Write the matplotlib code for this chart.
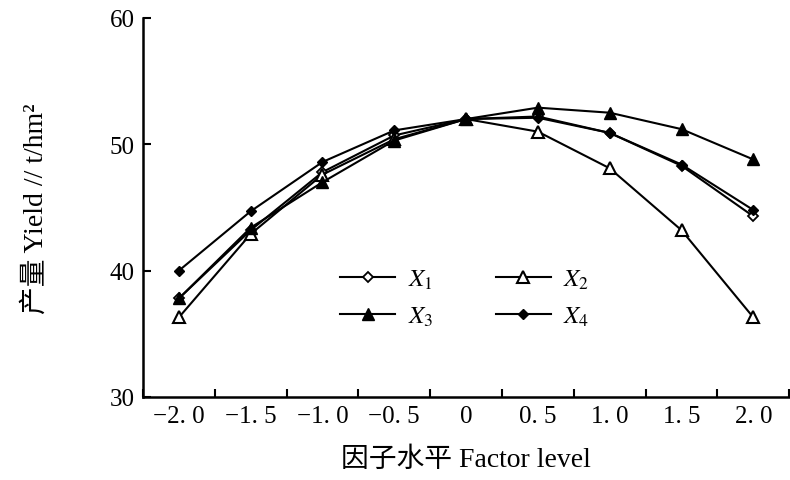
import numpy as np
import matplotlib.pyplot as plt
from matplotlib.ticker import FixedLocator

plt.rcParams['font.family'] = ['Liberation Serif', 'Noto Sans CJK SC']
plt.rcParams['mathtext.fontset'] = 'stix'

# 因子水平
levels = ["−2. 0", "−1. 5", "−1. 0", "−0. 5", "0", "0. 5", "1. 0", "1. 5", "2. 0"]

# 产量 (t/hm2)
x1 = [37.8, 43.2, 47.8, 50.7, 52.0, 52.2, 50.9, 48.3, 44.3]
x2 = [36.3, 42.9, 47.6, 50.4, 52.0, 51.0, 48.1, 43.2, 36.3]
x3 = [37.8, 43.4, 47.0, 50.3, 52.0, 52.9, 52.5, 51.2, 48.8]
x4 = [40.0, 44.7, 48.6, 51.1, 52.0, 52.1, 50.9, 48.4, 44.8]

fig = plt.figure(figsize=(7.9, 4.81), dpi=100)
ax = fig.add_axes([0.181, 0.1726, 0.818, 0.788])

pos = np.arange(len(levels))
lw = 1.5
h1, = ax.plot(pos, x1, color="black", lw=lw, marker="D", ms=5, mfc="white", mew=1.3)
h2, = ax.plot(pos, x2, color="black", lw=lw, marker="^", ms=8, mfc="white", mew=1.5)
h3, = ax.plot(pos, x3, color="black", lw=lw, marker="^", ms=8, mfc="black")
h4, = ax.plot(pos, x4, color="black", lw=lw, marker="D", ms=5, mfc="black")

ax.set_xlim(-0.5, len(levels) - 0.5)
ax.set_ylim(30, 60)
ax.set_yticks([30, 40, 50, 60])
ax.set_xticks(pos)
ax.set_xticklabels(levels)
ax.xaxis.set_minor_locator(FixedLocator(np.append(pos + 0.5, -0.5)))

ax.tick_params(axis="x", which="major", length=0, pad=6, labelsize=18)
ax.tick_params(axis="x", which="minor", direction="in", length=6, width=1.5)
ax.tick_params(axis="y", direction="in", length=6, width=1.5, labelsize=18, pad=6)

for s in ["top", "right"]:
    ax.spines[s].set_visible(False)
for s in ["left", "bottom"]:
    ax.spines[s].set_linewidth(1.8)

ax.set_xlabel("因子水平 Factor level", fontsize=20, labelpad=14)
ax.set_ylabel("产量 Yield // t/hm²", fontsize=20, labelpad=44)

ax.legend([h1, h3, h2, h4], [r"$X_1$", r"$X_3$", r"$X_2$", r"$X_4$"],
          ncol=2, frameon=False, loc="center", bbox_to_anchor=(0.498, 0.262),
          handlelength=2.2, columnspacing=2.5, fontsize=18, handletextpad=0.5,
          labelspacing=0.55)

fig.savefig("out.png", dpi=100)
